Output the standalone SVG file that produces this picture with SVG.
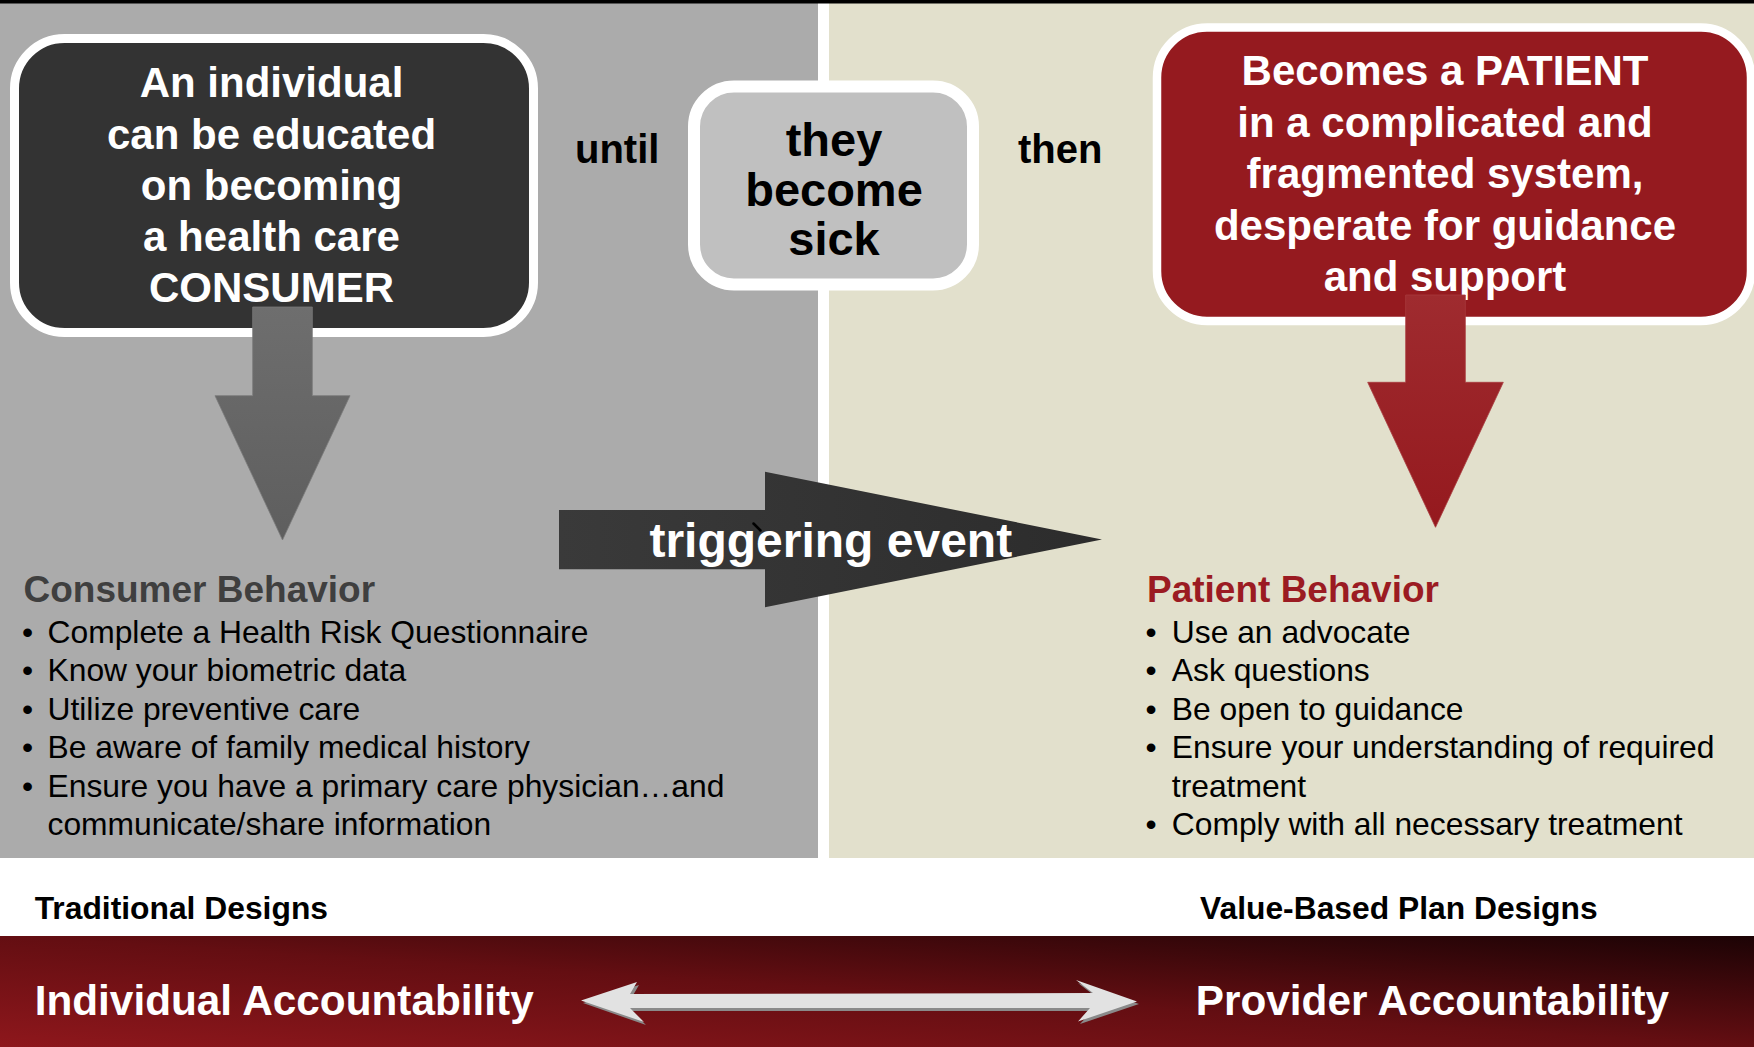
<svg xmlns="http://www.w3.org/2000/svg" width="1754" height="1047" viewBox="0 0 1754 1047">
<defs>
<style>
text{font-family:"Liberation Sans",Arial,Helvetica,sans-serif}
.b{font-weight:bold}
.boxtxt{font-size:42px;font-weight:bold;fill:#fff;text-anchor:middle}
.sick{font-size:47px;font-weight:bold;fill:#000;text-anchor:middle}
.conn{font-size:40px;font-weight:bold;fill:#000}
.head{font-size:37px;font-weight:bold}
.li{font-size:31.8px;fill:#000}
.design{font-size:31.8px;font-weight:bold;fill:#000}
.acct{font-size:42.3px;font-weight:bold;fill:#fff}
</style>
<linearGradient id="band" x1="0" y1="1" x2="1" y2="0">
<stop offset="0" stop-color="#8e171c"/>
<stop offset="0.5" stop-color="#640e12"/>
<stop offset="1" stop-color="#1c0305"/>
</linearGradient>
<linearGradient id="grayArrow" x1="0" y1="0" x2="0" y2="1">
<stop offset="0" stop-color="#6e6e6e"/>
<stop offset="1" stop-color="#5e5e5e"/>
</linearGradient>
<linearGradient id="redArrow" x1="0" y1="0" x2="0" y2="1">
<stop offset="0" stop-color="#9f2b2f"/>
<stop offset="1" stop-color="#95191e"/>
</linearGradient>
<linearGradient id="trig" x1="0" y1="0" x2="1" y2="0">
<stop offset="0" stop-color="#3a3a3a"/>
<stop offset="1" stop-color="#2c2c2c"/>
</linearGradient>
</defs>

<g id="background">
<rect x="0" y="0" width="1754" height="1047" fill="#ffffff"/>
<rect x="0" y="0" width="818" height="858" fill="#ababab"/>
<rect x="829" y="0" width="925" height="858" fill="#e2e0cc"/>
<rect x="0" y="0" width="1754" height="3.5" fill="#000"/>
<rect x="0" y="936" width="1754" height="111" fill="url(#band)"/>
</g>

<g id="node-consumer">
<rect x="14.5" y="38.5" width="519" height="294" rx="50" ry="50" fill="#333333" stroke="#ffffff" stroke-width="9"/>
<text class="boxtxt" x="271.5" y="97">An individual</text>
<text class="boxtxt" x="271.5" y="149">can be educated</text>
<text class="boxtxt" x="271.5" y="199.5">on becoming</text>
<text class="boxtxt" x="271.5" y="251">a health care</text>
<text class="boxtxt" x="271.5" y="301.7">CONSUMER</text>
</g>

<g id="label-until">
<text class="conn" x="575" y="163">until</text>
</g>

<g id="node-sick">
<rect x="694" y="86.5" width="279" height="198" rx="40" ry="40" fill="#c0c0c0" stroke="#ffffff" stroke-width="12"/>
<text class="sick" x="834" y="156">they</text>
<text class="sick" x="834" y="206">become</text>
<text class="sick" x="834" y="255">sick</text>
</g>

<g id="label-then">
<text class="conn" x="1018" y="163">then</text>
</g>

<g id="node-patient">
<rect x="1157" y="27.5" width="594" height="293.5" rx="50" ry="50" fill="#951a1f" stroke="#ffffff" stroke-width="8.5"/>
<text class="boxtxt" x="1445" y="85">Becomes a PATIENT</text>
<text class="boxtxt" x="1445" y="136.7">in a complicated and</text>
<text class="boxtxt" x="1445" y="188.3">fragmented system,</text>
<text class="boxtxt" x="1445" y="239.5">desperate for guidance</text>
<text class="boxtxt" x="1445" y="290.5">and support</text>
</g>

<g id="connectors">
<polygon id="arrow-consumer" points="252.7,307 312.3,307 312.3,395.7 350,395.7 282.5,540 215,395.7 252.7,395.7" fill="url(#grayArrow)" stroke="#7a7a7a" stroke-width="0.8"/>
<polygon id="arrow-patient" points="1405.7,295 1465.3,295 1465.3,382.3 1503.3,382.3 1435.5,527.3 1367.7,382.3 1405.7,382.3" fill="url(#redArrow)" stroke="#a83a3e" stroke-width="0.8"/>
<g id="arrow-accountability">
<polygon points="583,1003 639,985 632,997 1095,996 1078,983 1139,1004 1080,1024 1092,1011 632,1011 646,1025" fill="#8a8a8a"/>
<polygon points="581,1000.5 637,982 630,994 1093,993 1076,980 1137,1001.5 1078,1021.5 1090,1008 630,1008 644,1022" fill="#e2e2e2"/>
</g>
</g>

<g id="node-trigger">
<polygon points="559,510 765,510 765,471.7 1102,539.5 765,607.3 765,569.3 559,569.3" fill="url(#trig)"/>
<line x1="753.5" y1="523.5" x2="760.5" y2="530.5" stroke="#000" stroke-width="2.5" stroke-linecap="round"/>
<text class="b" x="830.8" y="556.7" font-size="48" fill="#ffffff" text-anchor="middle">triggering event</text>
</g>

<g id="node-consumer-behavior">
<text class="head" x="23.5" y="601.7" fill="#3f3f3f">Consumer Behavior</text>
<text class="li" x="22" y="642.5">•</text><text class="li" x="47.5" y="642.5">Complete a Health Risk Questionnaire</text>
<text class="li" x="22" y="681">•</text><text class="li" x="47.5" y="681">Know your biometric data</text>
<text class="li" x="22" y="719.5">•</text><text class="li" x="47.5" y="719.5">Utilize preventive care</text>
<text class="li" x="22" y="758">•</text><text class="li" x="47.5" y="758">Be aware of family medical history</text>
<text class="li" x="22" y="796.5">•</text><text class="li" x="47.5" y="796.5">Ensure you have a primary care physician…and</text>
<text class="li" x="47.5" y="835">communicate/share information</text>
</g>

<g id="node-patient-behavior">
<text class="head" x="1147" y="601.7" fill="#9b1b22">Patient Behavior</text>
<text class="li" x="1145.5" y="642.5">•</text><text class="li" x="1171.8" y="642.5">Use an advocate</text>
<text class="li" x="1145.5" y="681">•</text><text class="li" x="1171.8" y="681">Ask questions</text>
<text class="li" x="1145.5" y="719.5">•</text><text class="li" x="1171.8" y="719.5">Be open to guidance</text>
<text class="li" x="1145.5" y="758">•</text><text class="li" x="1171.8" y="758">Ensure your understanding of required</text>
<text class="li" x="1171.8" y="796.5">treatment</text>
<text class="li" x="1145.5" y="835">•</text><text class="li" x="1171.8" y="835">Comply with all necessary treatment</text>
</g>

<g id="node-traditional">
<text class="design" x="34.7" y="919">Traditional Designs</text>
<text class="acct" x="34.7" y="1014.5">Individual Accountability</text>
</g>

<g id="node-value">
<text class="design" x="1200" y="919">Value-Based Plan Designs</text>
<text class="acct" x="1195.8" y="1014.5">Provider Accountability</text>
</g>
</svg>
